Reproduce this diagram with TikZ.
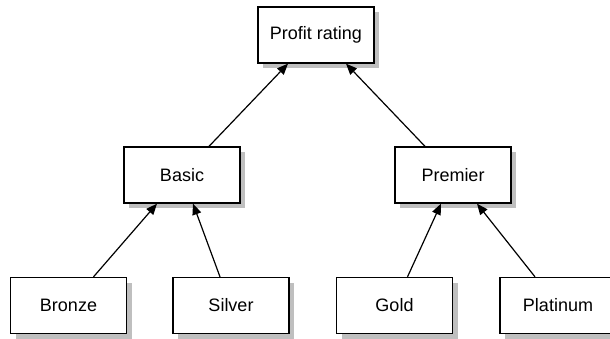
\documentclass[tikz,border=0pt]{standalone}
\usepackage{fontspec}
\setmainfont{Liberation Sans}
\usetikzlibrary{arrows.meta,shadows}
\begin{document}
\begin{tikzpicture}[x=1pt,y=-1pt,
  box/.style={draw=black,line width=1.3pt,fill=white,minimum width=116pt,minimum height=56pt,
    inner sep=0pt,font=\fontsize{18}{20}\selectfont,
    drop shadow={shadow xshift=5pt,shadow yshift=-5pt,fill=black!25,opacity=1}},
  link/.style={line width=1.2pt,-{Triangle[length=11pt,width=9pt]}}]
\useasboundingbox (0,0) rectangle (610,339);
\node[box] (profit) at (316,35) {Profit rating};
\node[box] (basic) at (182,175) {Basic};
\node[box] (premier) at (453,175) {Premier};
\node[box] (bronze) at (68.5,305.5) {Bronze};
\node[box] (silver) at (231,305.5) {Silver};
\node[box] (gold) at (394.5,305.5) {Gold};
\node[box] (platinum) at (558,305.5) {Platinum};
\draw[link] ([xshift=25pt]bronze.north) -- ([xshift=-25pt]basic.south);
\draw[link] ([xshift=-11pt]silver.north) -- ([xshift=11pt]basic.south);
\draw[link] ([xshift=13pt]gold.north) -- ([xshift=-12pt]premier.south);
\draw[link] ([xshift=-23pt]platinum.north) -- ([xshift=24pt]premier.south);
\draw[link] ([xshift=27pt]basic.north) -- ([xshift=-28pt]profit.south);
\draw[link] ([xshift=-28pt]premier.north) -- ([xshift=30pt]profit.south);
\end{tikzpicture}
\end{document}
